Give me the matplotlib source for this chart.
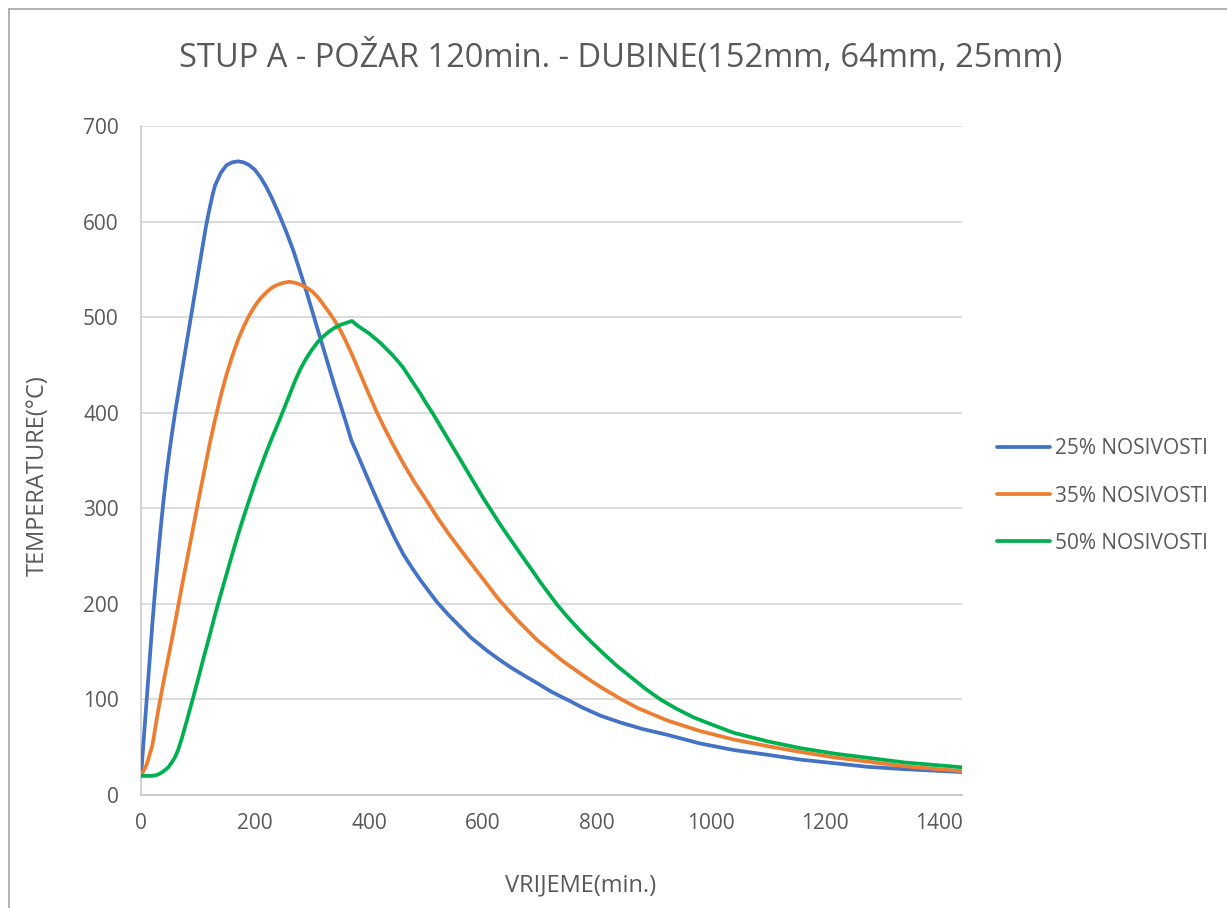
import matplotlib.pyplot as plt
from matplotlib.lines import Line2D

# data (time in min, temperature in °C)
t_25 = [0, 5, 10, 15, 20, 25, 30, 35, 40, 45, 50, 55, 60, 70, 80, 90, 100, 110, 114, 120,
        126, 130, 140, 150, 160, 170, 180, 190, 200, 210, 220, 230, 244, 255, 267, 280, 290,
        300, 310, 320, 330, 340, 350, 360, 369, 380, 390, 400, 414, 430, 445, 460, 475, 490,
        505, 519, 540, 560, 580, 607, 630, 650, 675, 695, 720, 750, 776, 806, 840, 880, 923,
        980, 1040, 1100, 1157, 1220, 1274, 1340, 1440]
T_25 = [20, 60, 100, 140, 180, 216, 250, 282, 311, 337, 360, 381, 401, 437, 473, 509, 545, 581, 595, 613,
        629, 638, 651, 659, 662, 663, 662, 659, 654, 646, 636, 624, 605, 589, 570, 546, 527,
        507, 487, 467, 447, 427, 408, 389, 371, 356, 342, 328, 309, 288, 269, 252, 238, 225,
        213, 202, 188, 176, 164, 151, 141, 133, 124, 117, 108, 99, 91, 83, 76, 69, 63,
        54, 47, 42, 37, 33, 29.5, 27, 24]

t_35 = [0, 10, 20, 30, 40, 50, 60, 70, 80, 90, 100, 110, 120, 130, 140, 150, 160, 170, 180,
        190, 200, 210, 220, 230, 240, 250, 260, 270, 280, 290, 300, 310, 320, 330, 340, 350,
        360, 370, 380, 390, 400, 414, 427, 440, 460, 480, 500, 519, 540, 560, 578, 600, 627, 660,
        695, 740, 783, 806, 840, 871, 923, 980, 1040, 1100, 1157, 1220, 1274, 1340, 1440]
T_35 = [20, 32, 52, 88, 120, 150, 181, 213, 244, 275, 306, 336, 366, 393, 418, 440, 459, 476, 490,
        502, 512, 520, 526, 531, 534, 536, 537, 536, 534, 531, 527, 521, 513, 505, 496, 486,
        474, 461, 447, 433, 419, 400, 384, 369, 347, 327, 309, 291, 273, 257, 243, 226, 205, 183,
        162, 140, 122, 113, 101, 91, 78, 67, 58, 51, 45, 39, 35, 30, 25]

t_50 = [0, 10, 20, 28, 35, 42, 48, 55, 60, 65, 72, 80, 91, 100, 110, 120, 130, 137, 150, 160,
        170, 180, 190, 200, 210, 220, 230, 244, 260, 270, 279, 290, 300, 310, 320, 330, 340,
        350, 360, 370, 380, 390, 400, 410, 420, 430, 440, 449, 460, 470, 480, 490, 500, 511,
        525, 540, 555, 570, 585, 600, 615, 630, 645, 666, 685, 700, 715, 730, 750, 770, 790,
        811, 835, 860, 885, 911, 940, 970, 1000, 1040, 1100, 1157, 1220, 1274, 1340, 1440]
T_50 = [20, 20, 20, 21, 23, 26, 29, 35, 40, 47, 60, 77, 101, 121, 144, 166, 189, 204, 231, 252,
        272, 291, 309, 327, 343, 359, 374, 394, 418, 433, 445, 457, 466, 474, 480, 485, 489,
        492, 494, 496, 491, 487, 483, 478, 473, 467, 461, 455, 447, 438, 429, 420, 410, 400,
        386, 371, 356, 341, 326, 311, 297, 283, 270, 252, 236, 223, 211, 199, 185, 172, 160,
        148, 135, 123, 111, 100, 90, 81, 74, 65, 56, 49, 43, 39, 34, 29]

labels = ['25% NOSIVOSTI', '35% NOSIVOSTI', '50% NOSIVOSTI']
colors = ['#4472C4', '#ED7D31', '#00B050']
x_ticks = [0, 200, 400, 600, 800, 1000, 1200, 1400]
y_ticks = [0, 100, 200, 300, 400, 500, 600, 700]

plt.rcParams['font.family'] = ['Open Sans', 'DejaVu Sans']
text_col = '#595959'

W, H = 1227, 908
fig = plt.figure(figsize=(W / 100, H / 100), dpi=100)
ax = fig.add_axes([141 / W, 1 - 795 / H, 821 / W, 669 / H])

for t, T, lab, c in zip([t_25, t_35, t_50], [T_25, T_35, T_50], labels, colors):
    ax.plot(t, T, color=c, linewidth=2.7, label=lab, solid_joinstyle='round',
            solid_capstyle='round', zorder=3)

ax.set_xlim(0, 1440)
ax.set_ylim(0, 700)
ax.set_xticks(x_ticks)
ax.set_yticks(y_ticks)
ax.grid(axis='y', color='#d9d9d9', linewidth=1.3)
ax.set_axisbelow(True)
for s in ['top', 'right']:
    ax.spines[s].set_visible(False)
ax.spines['left'].set_color('#d0d0d0')
ax.spines['bottom'].set_color('#c8c8c8')
ax.spines['left'].set_linewidth(1.3)
ax.spines['bottom'].set_linewidth(1.3)
ax.tick_params(length=0, labelsize=15, labelcolor=text_col)
ax.tick_params(axis='y', pad=16)
ax.tick_params(axis='x', pad=13)

fig.text(621 / W, 1 - 57 / H, 'STUP A - POŽAR 120min. - DUBINE(152mm, 64mm, 25mm)',
         ha='center', va='center', fontsize=23.5, color=text_col)
fig.text(38 / W, 1 - 476 / H, 'TEMPERATURE(°C)', rotation=90, ha='center', va='center',
         fontsize=17, color=text_col)
fig.text(581 / W, 1 - 885 / H, 'VRIJEME(min.)', ha='center', va='center',
         fontsize=17, color=text_col)

ax.legend(loc='center left', bbox_to_anchor=(978 / W, 1 - 496 / H),
          bbox_transform=fig.transFigure, frameon=False, fontsize=15,
          labelcolor=text_col, handlelength=2.55, handletextpad=0.25, labelspacing=1.25)

# outer chart frame
fig.add_artist(Line2D([9 / W, 9 / W], [0, 1 - 9 / H], color='#a6a6a6', linewidth=1.2))
fig.add_artist(Line2D([9 / W, 1], [1 - 9 / H, 1 - 9 / H], color='#a6a6a6', linewidth=1.2))

fig.savefig('out.png', dpi=100, facecolor='white')
